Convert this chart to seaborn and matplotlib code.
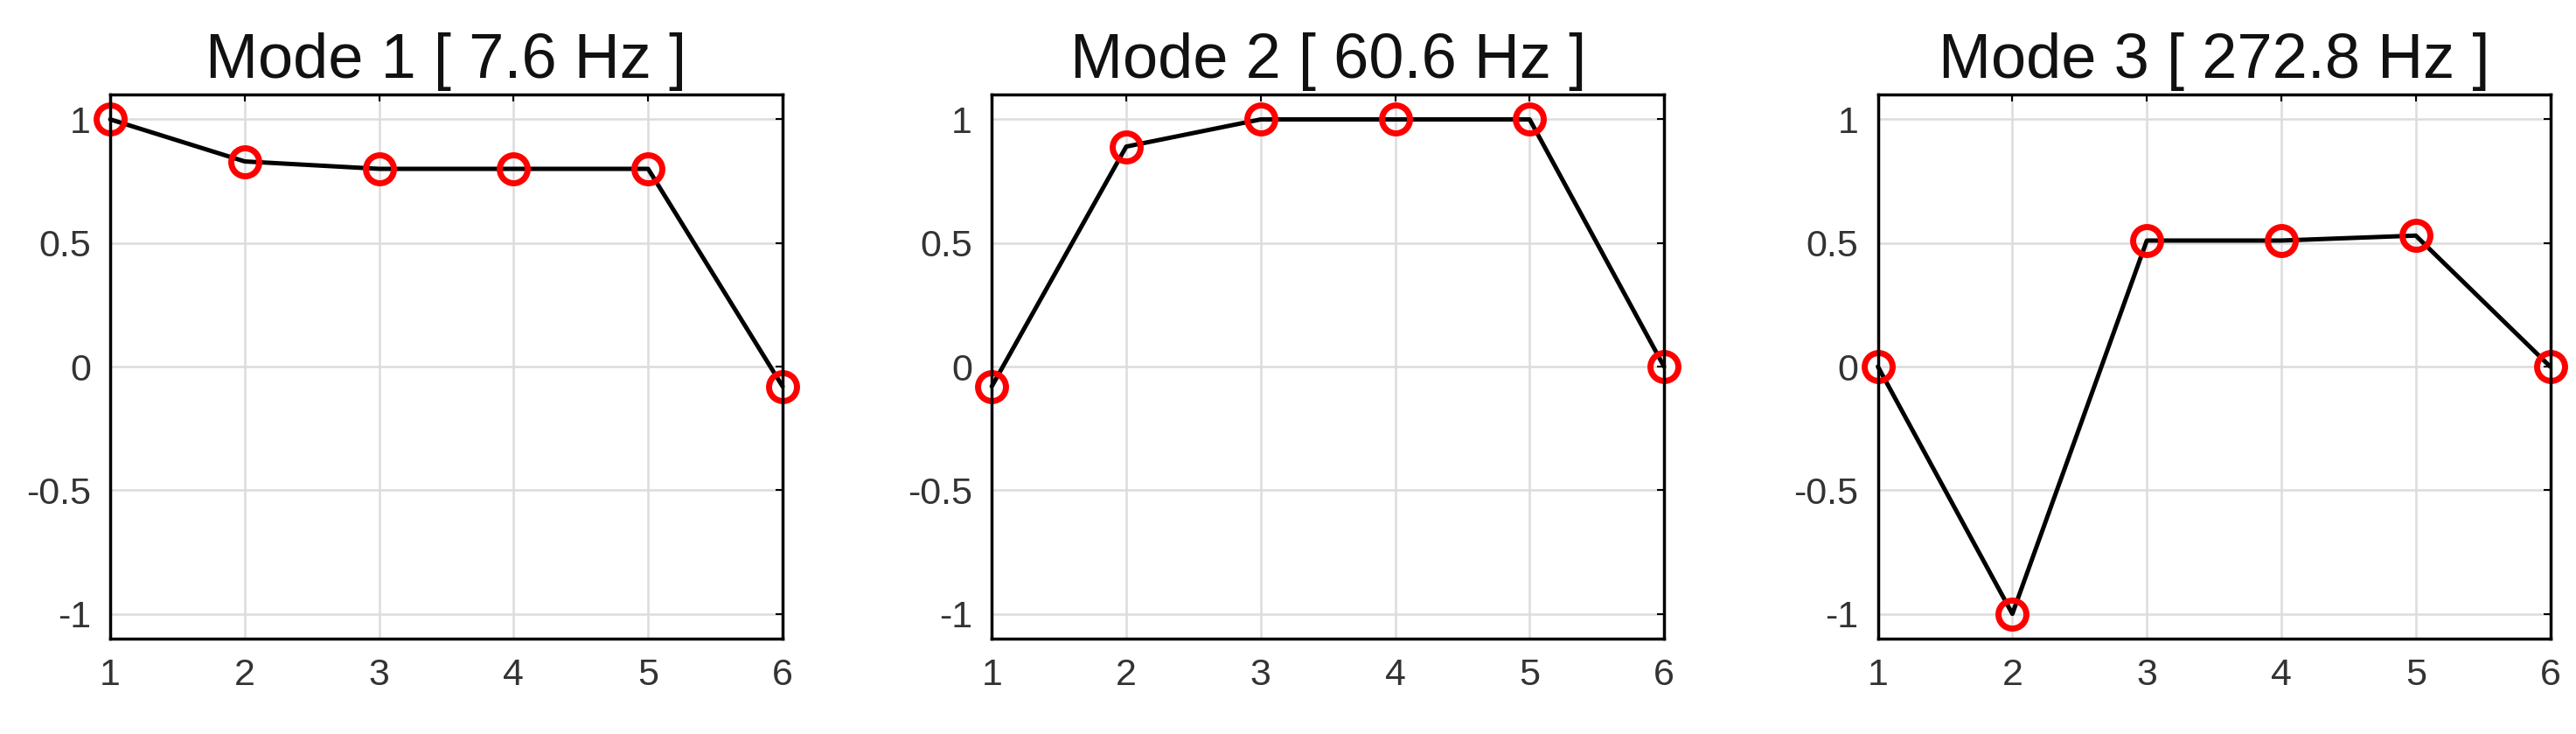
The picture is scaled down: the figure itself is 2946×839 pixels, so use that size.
import matplotlib
matplotlib.use("Agg")
import matplotlib.pyplot as plt
import seaborn as sns
import pandas as pd

sns.set_theme(style="white")
plt.rcParams['font.family'] = ['Liberation Sans', 'DejaVu Sans']

dof = [1, 2, 3, 4, 5, 6]
titles = ["Mode 1 [ 7.6 Hz ]", "Mode 2 [ 60.6 Hz ]", "Mode 3 [ 272.8 Hz ]"]
mode1 = [1.0, 0.83, 0.80, 0.80, 0.80, -0.08]
mode2 = [-0.08, 0.89, 1.0, 1.0, 1.0, 0.0]
mode3 = [0.0, -1.0, 0.51, 0.51, 0.53, 0.0]
modes = [mode1, mode2, mode3]
yticks = [-1, -0.5, 0, 0.5, 1]
ylabels = ["-1", "-0.5", "0", "0.5", "1"]

fig = plt.figure(figsize=(29.46, 8.39), dpi=100)
lefts = [0.0428, 0.385, 0.729]
for left, title, vals in zip(lefts, titles, modes):
    ax = fig.add_axes([left, 0.130, 0.261, 0.741])
    df = pd.DataFrame({"x": dof, "y": vals})
    sns.lineplot(data=df, x="x", y="y", ax=ax, color="black", linewidth=3.6,
                 marker="o", markersize=23, markerfacecolor="none",
                 markeredgecolor="red", markeredgewidth=5, clip_on=False)
    ax.set_xlim(1, 6)
    ax.set_ylim(-1.1, 1.1)
    ax.set_xticks(dof)
    ax.set_yticks(yticks)
    ax.set_yticklabels(ylabels)
    ax.set_xlabel("")
    ax.set_ylabel("")
    ax.grid(True, color="#dcdcdc", linewidth=1.8)
    ax.set_axisbelow(True)
    for s in ax.spines.values():
        s.set_color("black")
        s.set_linewidth(2.5)
        s.set_visible(True)
    ax.tick_params(axis="both", labelsize=31, colors="#333333", direction="in",
                   length=6, width=1.5, top=True, right=True, pad=16)
    ax.tick_params(axis="both", color="black")
    ax.set_title(title, fontsize=52, color="#111111", pad=14)

fig.savefig("out.png", dpi=100)
